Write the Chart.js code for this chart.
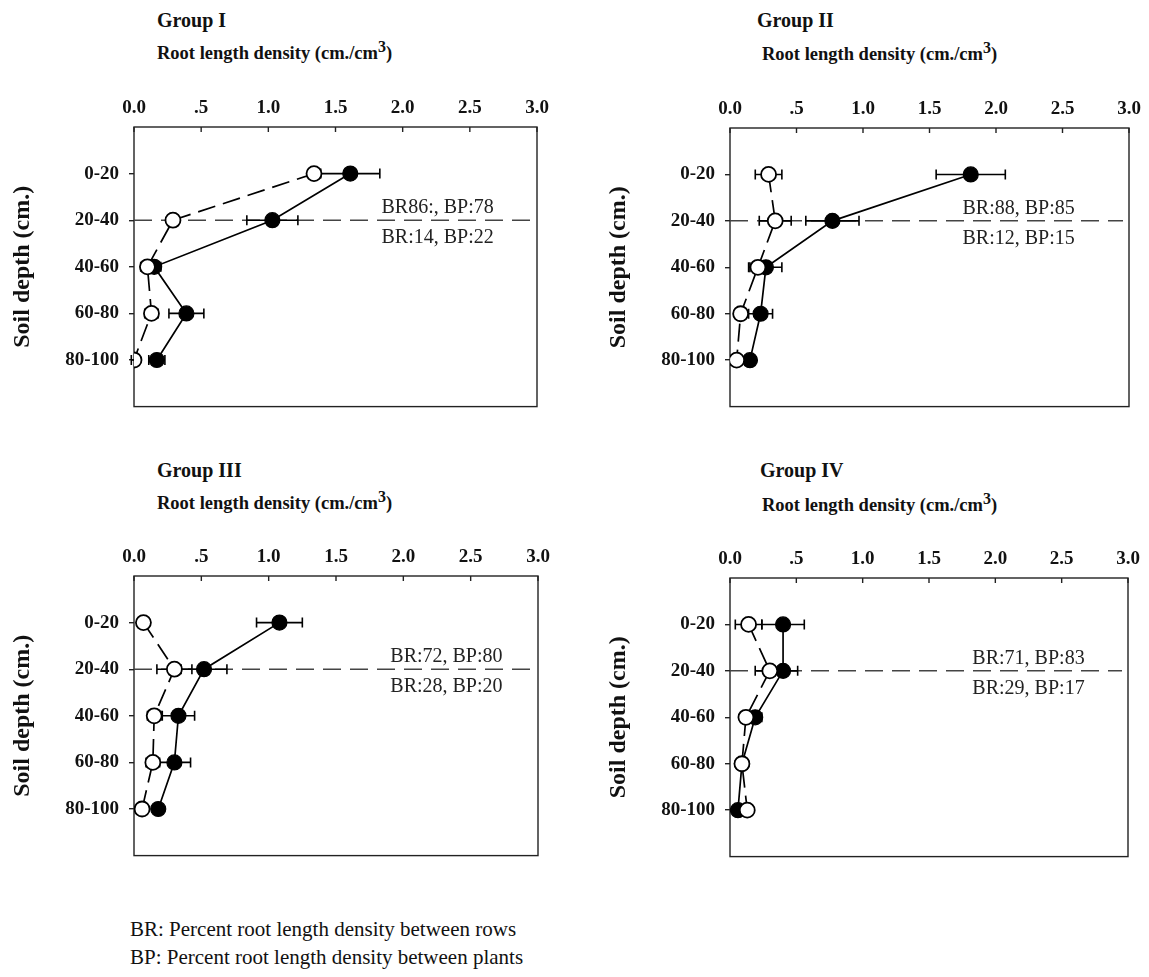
<!DOCTYPE html>
<html>
<head>
<meta charset="utf-8">
<script src="https://cdn.jsdelivr.net/npm/chart.js@4.4.1/dist/chart.umd.min.js"></script>
<style>
body{margin:0;background:#fff;width:1149px;height:977px;position:relative;overflow:hidden;font-family:"Liberation Serif","Times New Roman",serif;}
canvas{position:absolute;}
.ttl{position:absolute;font-weight:bold;color:#111;white-space:nowrap;line-height:24px;}
.grp{font-size:20px;}
.sub{font-size:18.5px;}
.sub sup{font-size:16px;vertical-align:7px;line-height:0;}
.note{position:absolute;left:130px;font-size:21px;color:#111;white-space:nowrap;line-height:26px;}
</style>
</head>
<body>

<div class="ttl grp" style="left:157px;top:8px">Group I</div>
<div class="ttl sub" style="left:157px;top:41px">Root length density (cm./cm<sup>3</sup>)</div>
<div class="ttl grp" style="left:757px;top:8px">Group II</div>
<div class="ttl sub" style="left:762px;top:42px">Root length density (cm./cm<sup>3</sup>)</div>
<div class="ttl grp" style="left:157px;top:458px">Group III</div>
<div class="ttl sub" style="left:157px;top:491px">Root length density (cm./cm<sup>3</sup>)</div>
<div class="ttl grp" style="left:760px;top:458px">Group IV</div>
<div class="ttl sub" style="left:762px;top:493px">Root length density (cm./cm<sup>3</sup>)</div>

<canvas id="g1" width="557" height="346" style="left:0px;top:82px"></canvas>
<canvas id="g2" width="553" height="345" style="left:596px;top:83px"></canvas>
<canvas id="g3" width="558" height="346" style="left:0px;top:531px"></canvas>
<canvas id="g4" width="552" height="345" style="left:596px;top:533px"></canvas>

<div class="note" style="top:916px">BR: Percent root length density between rows</div>
<div class="note" style="top:944px">BP: Percent root length density between plants</div>

<script>

const depths = ["0-20","20-40","40-60","60-80","80-100"];
const depthPos = [1,2,3,4,5];

const xTickVals = [0,0.5,1,1.5,2,2.5,3];
const xTickLabels = ["0.0",".5","1.0","1.5","2.0","2.5","3.0"];

// filled circles
const g1Filled = [1.61,1.03,0.15,0.39,0.17];
const g1FilledErr = [0.22,0.19,0.05,0.13,0.06];
// open circles
const g1Open = [1.34,0.29,0.10,0.13,0.00];
const g1OpenErr = [0.04,0.03,0.05,0.05,0.02];

const g2Filled = [1.81,0.77,0.27,0.23,0.15];
const g2FilledErr = [0.26,0.20,0.12,0.09,0.03];
const g2Open = [0.29,0.34,0.21,0.08,0.05];
const g2OpenErr = [0.10,0.12,0.07,0.02,0.02];

const g3Filled = [1.08,0.52,0.33,0.30,0.18];
const g3FilledErr = [0.17,0.17,0.12,0.12,0.03];
const g3Open = [0.07,0.30,0.15,0.14,0.06];
const g3OpenErr = [0.02,0.13,0.05,0.05,0.02];

const g4Filled = [0.40,0.40,0.19,0.09,0.06];
const g4FilledErr = [0.16,0.11,0.05,0.02,0.02];
const g4Open = [0.14,0.30,0.12,0.09,0.13];
const g4OpenErr = [0.10,0.11,0.03,0.02,0.02];

// split line at 20-40 and the percentages written above / below it
const splitDepth = 2;
const noteTop = ["BR86:, BP:78","BR:88, BP:85","BR:72, BP:80","BR:71, BP:83"];
const noteBottom = ["BR:14, BP:22","BR:12, BP:15","BR:28, BP:20","BR:29, BP:17"];
const noteX = [2.26,2.17,2.32,2.25];

const FONT = "'Liberation Serif','Times New Roman',serif";


const frame = {
id:"frame",
beforeDatasetsDraw(chart){
const ctx = chart.ctx;
const a = chart.chartArea;
const xs = chart.scales.x;
const ys = chart.scales.y;
const idx = chart.options.plugins.frame.idx;

ctx.save();

/* box */
ctx.strokeStyle="#222";
ctx.lineWidth=1.4;
ctx.strokeRect(a.left,a.top,a.right-a.left,a.bottom-a.top);

/* inward ticks on top axis */
xTickVals.forEach(v=>{
const px = xs.getPixelForValue(v);
ctx.beginPath();
ctx.moveTo(px,a.top);
ctx.lineTo(px,a.top+5);
ctx.stroke();
});

/* dashed split line */
const yl = ys.getPixelForValue(splitDepth);
ctx.strokeStyle="#444";
ctx.lineWidth=1.5;
ctx.setLineDash([18,9]);
ctx.beginPath();
ctx.moveTo(a.left,yl);
ctx.lineTo(a.right-6,yl);
ctx.stroke();
ctx.setLineDash([]);

ctx.fillStyle="#222";
ctx.font="20px "+FONT;
ctx.textAlign="center";
ctx.textBaseline="middle";
const tx = xs.getPixelForValue(noteX[idx]);
ctx.fillText(noteTop[idx],tx,yl-12);
ctx.fillText(noteBottom[idx],tx,yl+18);

/* error bars */
ctx.strokeStyle="#000";
ctx.lineWidth=1.6;
chart.data.datasets.forEach(ds=>{
ds.data.forEach((p,i)=>{
const e = ds.errors[i];
const y = ys.getPixelForValue(p.y);
const x1 = xs.getPixelForValue(p.x-e);
const x2 = xs.getPixelForValue(p.x+e);
ctx.beginPath();
ctx.moveTo(x1,y);ctx.lineTo(x2,y);
ctx.moveTo(x1,y-5);ctx.lineTo(x1,y+5);
ctx.moveTo(x2,y-5);ctx.lineTo(x2,y+5);
ctx.stroke();
});
});

ctx.restore();
}
};


function toPoints(vals){
return vals.map((v,i)=>({x:v,y:depthPos[i]}));
}


function makePanel(id,idx,filled,filledErr,open,openErr){

const ctx = document.getElementById(id).getContext("2d");

return new Chart(ctx,{

type:"scatter",

data:{
datasets:[
{
label:"open",
data:toPoints(open),
errors:openErr,
showLine:true,
borderColor:"#000",
borderWidth:1.7,
borderDash:[18,8],
pointRadius:7.5,
pointBorderWidth:1.8,
pointBackgroundColor:"#fff",
pointBorderColor:"#000"
},
{
label:"filled",
data:toPoints(filled),
errors:filledErr,
showLine:true,
borderColor:"#000",
borderWidth:1.7,
pointRadius:7.5,
pointBorderWidth:1.2,
pointBackgroundColor:"#000",
pointBorderColor:"#000"
}
]
},

options:{
responsive:false,
animation:false,
layout:{padding:{right:20,bottom:10}},
plugins:{
legend:{display:false},
tooltip:{enabled:false},
frame:{idx:idx}
},
scales:{
x:{
type:"linear",
position:"top",
min:0,
max:3,
afterBuildTicks:axis=>{axis.ticks = xTickVals.map(v=>({value:v}));},
afterFit:axis=>{axis.height = 45;},
ticks:{
padding:8,
color:"#111",
font:{family:FONT,size:19,weight:"bold"},
callback:(v,i)=>xTickLabels[i]
},
grid:{display:false,drawTicks:false},
border:{display:false}
},
y:{
type:"linear",
reverse:true,
min:0,
max:6,
afterBuildTicks:axis=>{axis.ticks = depthPos.map(v=>({value:v}));},
afterFit:axis=>{axis.width = 134;},
ticks:{
padding:10,
color:"#111",
font:{family:FONT,size:19,weight:"bold"},
callback:v=>depths[v-1]
},
grid:{drawOnChartArea:false,drawTicks:true,tickLength:5,color:"#222",lineWidth:1.4},
border:{display:false},
title:{
display:true,
text:"Soil depth (cm.)",
color:"#111",
font:{family:FONT,size:24,weight:"bold"},
padding:{top:8,bottom:0}
}
}
}
},

plugins:[frame]

});

}


makePanel("g1",0,g1Filled,g1FilledErr,g1Open,g1OpenErr);
makePanel("g2",1,g2Filled,g2FilledErr,g2Open,g2OpenErr);
makePanel("g3",2,g3Filled,g3FilledErr,g3Open,g3OpenErr);
makePanel("g4",3,g4Filled,g4FilledErr,g4Open,g4OpenErr);

</script>
</body>
</html>
